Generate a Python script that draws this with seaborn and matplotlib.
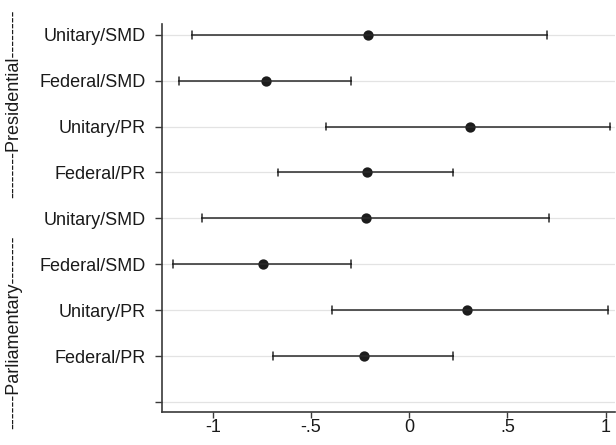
import numpy as np
import pandas as pd
import matplotlib
matplotlib.use("Agg")
import matplotlib.pyplot as plt
import seaborn as sns

# ---- data ----
labels = ["Unitary/SMD", "Federal/SMD", "Unitary/PR", "Federal/PR",
          "Unitary/SMD", "Federal/SMD", "Unitary/PR", "Federal/PR"]
groups = ["Presidential"] * 4 + ["Parliamentary"] * 4
estimates = [-0.211, -0.729, 0.307, -0.215, -0.222, -0.745, 0.292, -0.230]
lower = [-1.103, -1.174, -0.425, -0.666, -1.057, -1.201, -0.395, -0.691]
upper = [0.700, -0.296, 1.020, 0.222, 0.709, -0.296, 1.012, 0.221]
xtick_vals = [-1, -0.5, 0, 0.5, 1]
xtick_labels = ["-1", "-.5", "0", ".5", "1"]
group_titles = ["--------Presidential--------",
                "------Parliamentary--------"]

ids = [f"{g}|{l}" for g, l in zip(groups, labels)]
rows = []
for i, key in enumerate(ids):
    for v in (lower[i], estimates[i], upper[i]):
        rows.append({"row": key, "value": v})
df = pd.DataFrame(rows)

sns.set_theme(style="white")
plt.rcParams["font.family"] = ["Liberation Sans", "DejaVu Sans"]

fig = plt.figure(figsize=(6.16, 4.45), dpi=100)
ax = fig.add_axes([0.263, 0.074, 0.735, 0.872])

sns.pointplot(data=df, x="value", y="row", order=ids, orient="h",
              estimator="median", errorbar=lambda v: (v.min(), v.max()),
              capsize=0.17, linestyle="none", marker="o", markersize=5.4,
              color="#1c1c1c",
              err_kws={"linewidth": 1.1, "color": "#2a2a2a"}, ax=ax)

ax.set_xlim(-1.258, 1.046)
ax.set_ylim(8.218, -0.233)
ax.set_yticks(range(9))
ax.set_yticklabels(labels + [""], fontsize=13, color="#1a1a1a")
ax.set_xticks(xtick_vals)
ax.set_xticklabels(xtick_labels, fontsize=13, color="#1a1a1a")
ax.set_xlabel("")
ax.set_ylabel("")

for y in range(9):
    ax.axhline(y, color="#e3e3e3", linewidth=0.9, zorder=0)

for s in ["top", "right"]:
    ax.spines[s].set_visible(False)
for s in ["left", "bottom"]:
    ax.spines[s].set_color("#3a3a3a")
    ax.spines[s].set_linewidth(1.2)

ax.tick_params(axis="y", which="both", left=True, length=5, width=1.0,
               color="#3a3a3a", pad=6.5)
ax.tick_params(axis="x", which="both", bottom=True, length=4.5, width=1.0,
               color="#3a3a3a", pad=0.8)

fig.text(14 / 616, 1 - 103.5 / 445, group_titles[0], rotation=90,
         ha="center", va="center", fontsize=13, color="#1a1a1a")
fig.text(14 / 616, 1 - 332.5 / 445, group_titles[1], rotation=90,
         ha="center", va="center", fontsize=13, color="#1a1a1a")

fig.savefig("out.png", dpi=100)
